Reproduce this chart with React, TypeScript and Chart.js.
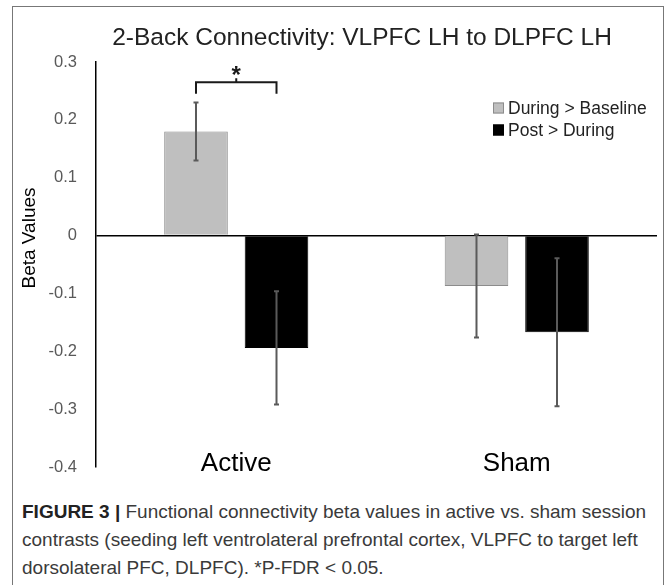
import React, { useEffect, useRef } from "react";
import { Chart, registerables } from "chart.js";

Chart.register(...registerables);

// ---- data ----
const categories = ["Active", "Sham"];
const seriesNames = ["During > Baseline", "Post > During"];
const duringBaseline = [0.18, -0.087];
const postDuring = [-0.194, -0.167];
const duringBaselineErr = [0.05, 0.089];
const postDuringErr = [0.098, 0.128];
const yTickValues = [0.3, 0.2, 0.1, 0, -0.1, -0.2, -0.3, -0.4];
const sigBracket = [0.265, 0.245]; // bracket bar level, leg bottom level
const sigLabel = "*";
const titleText = "2-Back Connectivity: VLPFC LH to DLPFC LH";
const yAxisTitle = "Beta Values";

const seriesValues = [duringBaseline, postDuring];
const seriesErrors = [duringBaselineErr, postDuringErr];
const seriesFill = ["#bfbfbf", "#000000"];
const seriesBorder = ["#8c8c8c", "#000000"];

const FONT = "'Liberation Sans', Arial, Helvetica, sans-serif";

const overlayPlugin = {
  id: "overlay",
  afterDatasetsDraw(chart: any) {
    const ctx = chart.ctx as CanvasRenderingContext2D;
    const ys = chart.scales.y;
    // error bars
    seriesErrors.forEach((errs, di) => {
      const meta = chart.getDatasetMeta(di);
      meta.data.forEach((bar: any, i: number) => {
        const v = seriesValues[di][i];
        const e = errs[i];
        const x = bar.x;
        const yTop = ys.getPixelForValue(v + e);
        const yBot = ys.getPixelForValue(v - e);
        ctx.save();
        ctx.strokeStyle = "#5a5a5a";
        ctx.lineWidth = 2;
        ctx.beginPath();
        ctx.moveTo(x, yTop);
        ctx.lineTo(x, yBot);
        ctx.moveTo(x - 2.5, yTop);
        ctx.lineTo(x + 2.5, yTop);
        ctx.moveTo(x - 2.5, yBot);
        ctx.lineTo(x + 2.5, yBot);
        ctx.stroke();
        ctx.restore();
      });
    });
    // significance bracket over Active
    const x1 = chart.getDatasetMeta(0).data[0].x;
    const x2 = chart.getDatasetMeta(1).data[0].x;
    const yb = ys.getPixelForValue(sigBracket[0]);
    const yl = ys.getPixelForValue(sigBracket[1]);
    const xm = (x1 + x2) / 2;
    ctx.save();
    ctx.strokeStyle = "#1a1a1a";
    ctx.lineWidth = 2;
    ctx.beginPath();
    ctx.moveTo(x1, yl);
    ctx.lineTo(x1, yb);
    ctx.lineTo(x2, yb);
    ctx.lineTo(x2, yl);
    ctx.moveTo(xm, yb);
    ctx.lineTo(xm, yb - 4);
    ctx.stroke();
    ctx.fillStyle = "#1a1a1a";
    ctx.font = `bold 24px ${FONT}`;
    ctx.textAlign = "center";
    ctx.textBaseline = "alphabetic";
    ctx.fillText(sigLabel, xm, yb + 1);
    ctx.restore();
  },
  afterDraw(chart: any) {
    const ctx = chart.ctx as CanvasRenderingContext2D;
    const ca = chart.chartArea;
    const xs = chart.scales.x;
    ctx.save();
    // title
    ctx.fillStyle = "#222";
    ctx.font = `24.5px ${FONT}`;
    ctx.textAlign = "center";
    ctx.textBaseline = "middle";
    ctx.fillText(titleText, ca.left + 266, 30);
    // category labels
    ctx.fillStyle = "#000";
    ctx.font = `26px ${FONT}`;
    ctx.textBaseline = "alphabetic";
    categories.forEach((c, i) => {
      ctx.fillText(c, xs.getPixelForValue(i), ca.bottom + 4);
    });
    // y axis title
    ctx.save();
    ctx.translate(16, 230);
    ctx.rotate(-Math.PI / 2);
    ctx.font = `19px ${FONT}`;
    ctx.textBaseline = "middle";
    ctx.fillText(yAxisTitle, 0, 0);
    ctx.restore();
    // legend
    const lx = ca.left + 397;
    const rows = [100, 122];
    ctx.font = `17.5px ${FONT}`;
    ctx.textAlign = "left";
    ctx.textBaseline = "middle";
    seriesNames.forEach((name, i) => {
      const cy = rows[i];
      ctx.fillStyle = seriesFill[i];
      ctx.fillRect(lx, cy - 5.5, 11, 11);
      ctx.strokeStyle = seriesBorder[i];
      ctx.lineWidth = 1;
      ctx.strokeRect(lx + 0.5, cy - 5, 10, 10);
      ctx.fillStyle = "#222";
      ctx.fillText(name, lx + 15, cy + 1);
    });
    ctx.restore();
  },
};

export default function App() {
  const ref = useRef<HTMLCanvasElement | null>(null);

  useEffect(() => {
    if (!ref.current) return;
    const chart = new Chart(ref.current, {
      type: "bar",
      data: {
        labels: categories,
        datasets: seriesNames.map((name, i) => ({
          label: name,
          data: seriesValues[i],
          backgroundColor: seriesFill[i],
          borderColor: seriesBorder[i],
          borderWidth: 1,
          categoryPercentage: 0.574,
          barPercentage: 0.79,
        })),
      },
      options: {
        animation: false,
        responsive: false,
        devicePixelRatio: 1,
        layout: { padding: { top: 54, right: 5, bottom: 0, left: 0 } },
        plugins: {
          legend: { display: false },
          title: { display: false },
          tooltip: { enabled: false },
        },
        scales: {
          x: {
            display: false,
          },
          y: {
            min: -0.4,
            max: 0.3,
            afterBuildTicks(scale: any) {
              scale.ticks = yTickValues.map((v) => ({ value: v }));
            },
            ticks: {
              color: "#595959",
              font: { family: FONT, size: 16.5 },
              padding: 19,
              callback: (v: any) => String(Number(Number(v).toFixed(1))),
            },
            grid: {
              drawTicks: false,
              color: (c: any) => (c.tick && Math.abs(c.tick.value) < 1e-9 ? "#000" : "rgba(0,0,0,0)"),
              lineWidth: 1.5,
            },
            border: { display: true, color: "#000", width: 1.5 },
            title: { display: false },
            afterFit(scale: any) {
              scale.width = 82;
            },
          },
        },
      },
      plugins: [overlayPlugin],
    });
    return () => chart.destroy();
  }, []);

  return (
    <div
      style={{
        position: "fixed",
        left: 0,
        top: 0,
        width: 667,
        height: 585,
        background: "#fff",
        overflow: "hidden",
      }}
    >
      <div
        style={{
          position: "absolute",
          left: 12,
          top: 6,
          width: 650,
          height: 620,
          borderLeft: "1.5px solid #777",
          borderTop: "1.5px solid #777",
          borderRight: "1.5px solid #777",
        }}
      />
      <canvas
        ref={ref}
        width={648}
        height={488}
        style={{ position: "absolute", left: 14, top: 8, width: 648, height: 488 }}
      />
      <div
        style={{
          position: "absolute",
          left: 22,
          top: 498,
          fontFamily: FONT,
          fontSize: 19,
          lineHeight: "28px",
          color: "#3a3a3a",
          whiteSpace: "nowrap",
        }}
      >
        <span style={{ fontWeight: "bold", color: "#222" }}>FIGURE 3 | </span>
        Functional connectivity beta values in active vs. sham session
        <br />
        contrasts (seeding left ventrolateral prefrontal cortex, VLPFC to target left
        <br />
        dorsolateral PFC, DLPFC). *P-FDR &lt; 0.05.
      </div>
    </div>
  );
}
